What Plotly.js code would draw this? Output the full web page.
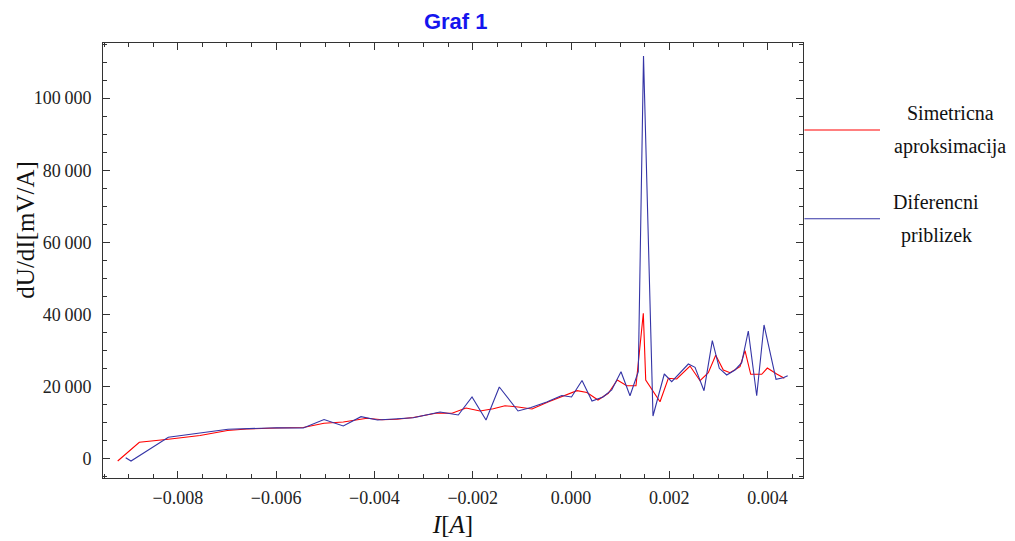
<!DOCTYPE html>
<html>
<head>
<meta charset="utf-8">
<script src="https://cdn.plot.ly/plotly-3.0.1.min.js"></script>
<style>html,body{margin:0;padding:0;background:#fff;}#chart{width:1015px;height:541px;}</style>
</head>
<body>
<div id="chart"></div>
<script>
// Simetricna aproksimacija (red)
const symI = [-0.009223,-0.008783,-0.008193,-0.007548,-0.006989,-0.006598,-0.005988,-0.005447,-0.005025,-0.004633,
  -0.004151,-0.003846,-0.003540,-0.003209,-0.002726,-0.002421,-0.002136,-0.001851,-0.001581,-0.001343,
  -0.001078,-0.000793,-0.000468,-0.000142,0.000122,0.000325,0.000549,0.000759,0.000942,0.001133,
  0.001322,0.001471,0.001520,0.001811,0.001980,0.002151,0.002421,0.002625,0.002793,0.002944,
  0.003099,0.003235,0.003438,0.003540,0.003656,0.003880,0.003994,0.004185,0.004340];
const symD = [-640,4550,5380,6430,7820,8240,8510,8650,9820,10180,
  11200,10790,10930,11420,12670,12590,14060,13230,13870,14700,
  14340,13780,15720,17380,18860,18360,16280,18140,21820,20240,
  20240,40320,21820,15800,22290,22100,25700,21630,23850,28670,
  24600,23850,25510,29950,23400,23400,25150,23490,22300];

// Diferencni priblizek (blue)
const difI = [-0.009060,-0.008952,-0.008193,-0.007548,-0.006979,-0.005988,-0.005447,-0.005025,-0.004633,-0.004273,
  -0.003937,-0.003209,-0.002665,-0.002293,-0.002014,-0.001729,-0.001459,-0.001078,-0.000814,-0.000494,
  -0.000189,0.000010,0.000224,0.000427,0.000651,0.000828,0.001017,0.001200,0.001369,0.001475,
  0.001668,0.001898,0.002049,0.002387,0.002523,0.002706,0.002875,0.003017,0.003168,0.003337,
  0.003473,0.003607,0.003778,0.003927,0.004171,0.004319,0.004409];
const difD = [280,-640,5930,7210,8150,8600,8510,10870,9070,11650,
  10730,11370,12950,12120,17110,10730,19880,13230,14200,15720,
  17530,17110,21680,16000,17110,19050,24120,17470,24120,111670,
  11840,23490,21350,26260,25340,18860,32720,25070,23210,24600,
  26620,35410,17470,37080,22020,22460,23020];

const seriesNames = ['Simetricna aproksimacija', 'Diferencni priblizek'];
const legendLines = [['Simetricna', 'aproksimacija'], ['Diferencni', 'priblizek']];
const seriesColors = ['#ff0000', '#3434a6'];

const serif = 'Liberation Serif, Times New Roman, serif';
const frameCol = '#333';

const traces = [
  {x: symI, y: symD, type: 'scatter', mode: 'lines', name: seriesNames[0],
   line: {color: seriesColors[0], width: 1.1}, showlegend: false},
  {x: difI, y: difD, type: 'scatter', mode: 'lines', name: seriesNames[1],
   line: {color: seriesColors[1], width: 1.1}, showlegend: false}
];

const axisCommon = {
  showgrid: false, zeroline: false, showline: true, linecolor: frameCol, linewidth: 1,
  mirror: 'ticks', ticks: 'inside', ticklen: 7, tickcolor: frameCol, tickwidth: 1,
  tickfont: {family: serif, size: 18, color: '#222'}
};

// legend geometry (paper coords), one block per series
const legendY = [0.80, 0.596];
const legendCx = [1.21, 1.19];
const legendGap = 0.038;

const shapes = [];
const annotations = [];
for (let k = 0; k < 2; k++) {
  shapes.push({type: 'line', xref: 'paper', yref: 'paper', x0: 1.002, x1: 1.11, y0: legendY[k], y1: legendY[k],
               line: {color: seriesColors[k], width: 1.1}});
  annotations.push({xref: 'paper', yref: 'paper', x: legendCx[k], y: legendY[k] + legendGap,
    xanchor: 'center', yanchor: 'middle', text: legendLines[k][0], showarrow: false,
    font: {family: serif, size: 20, color: '#111'}});
  annotations.push({xref: 'paper', yref: 'paper', x: legendCx[k], y: legendY[k] - legendGap,
    xanchor: 'center', yanchor: 'middle', text: legendLines[k][1], showarrow: false,
    font: {family: serif, size: 20, color: '#111'}});
}
// y-axis title
annotations.push({xref: 'paper', yref: 'paper', x: -0.112, y: 0.57, xanchor: 'center', yanchor: 'middle',
  textangle: -90, text: 'dU/dI[mV/A]', showarrow: false, font: {family: serif, size: 25, color: '#111'}});

const layout = {
  width: 1015, height: 541,
  margin: {l: 103, r: 212, t: 43, b: 63},
  paper_bgcolor: '#fff', plot_bgcolor: '#fff',
  separators: '.\u2009',
  title: {text: '<b>Graf 1</b>', x: 0.449, xanchor: 'center', y: 0.961, yanchor: 'middle',
          font: {family: 'Liberation Sans, Arial, sans-serif', size: 22, color: '#1515ee'}},
  xaxis: Object.assign({}, axisCommon, {
    range: [-0.009522, 0.00472], dtick: 0.002, tick0: 0, tickformat: '.3f',
    ticklabelstandoff: 3,
    minor: {dtick: 0.0005, ticklen: 4, ticks: 'inside', tickcolor: frameCol},
    title: {text: '<i>I</i>[<i>A</i>]', font: {family: serif, size: 25, color: '#111'}, standoff: 8}
  }),
  yaxis: Object.assign({}, axisCommon, {
    range: [-5352, 115280], dtick: 20000, tick0: 0, tickformat: ',d',
    ticklabelstandoff: 7,
    minor: {dtick: 5000, ticklen: 4, ticks: 'inside', tickcolor: frameCol}
  }),
  shapes: shapes,
  annotations: annotations
};

Plotly.newPlot('chart', traces, layout, {displayModeBar: false, staticPlot: true});
</script>
</body>
</html>
